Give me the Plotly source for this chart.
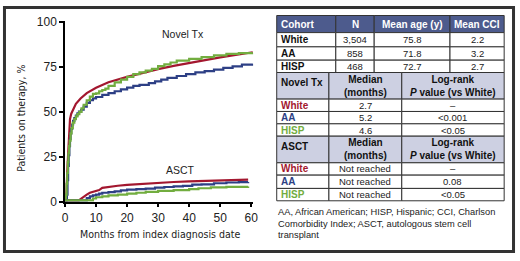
import plotly.graph_objects as go

# ---------------- data ----------------
months_novel_white = [0, 0.4, 0.8, 1.2, 1.6, 2.0, 2.7, 3.5, 5, 7, 10, 14, 20, 25, 30, 35, 40, 45, 50, 55, 60.5]
novel_white = [0.8, 3, 20, 38, 46, 49, 52, 54.5, 57.5, 60.5, 63.5, 66.5, 69.5, 71.8, 73.8, 75.6, 77.3, 78.9, 80.4, 81.8, 83.2]

months_novel_aa = [0, 0.6, 0.8, 1.0, 1.2, 1.4, 1.6, 1.8, 2.0, 2.3, 2.6, 3.0, 3.5, 4, 4.5, 5.2, 6, 7, 8, 9, 10, 12, 14, 16, 18, 20, 22, 24, 27, 29, 31, 33, 36, 39, 42, 45, 48, 51, 54, 57, 60.5]
novel_aa = [0.8, 4, 12, 20, 26, 31, 35, 38, 40.5, 43, 45, 46.5, 48, 49.2, 50.2, 51.2, 53, 55, 56.5, 57.5, 58.3, 59.5, 60.5, 61.5, 62.5, 63.5, 64.5, 65, 66, 67, 68, 69, 70, 71, 72, 72.7, 73.5, 74.5, 75.3, 76.3, 76.8]

months_novel_hisp = [0, 0.3, 0.5, 0.7, 0.9, 1.1, 1.3, 1.5, 1.8, 2.1, 2.5, 3.0, 3.5, 4, 4.6, 5.3, 6, 7, 8, 9, 10, 11, 12, 13, 14, 16, 18, 20, 22, 24, 26, 28, 30, 32, 34, 36, 40, 44, 48, 52, 56, 60.5]
novel_hisp = [0.8, 4, 10, 16, 22, 27, 31, 34, 38, 41, 44, 46, 47.5, 48.8, 50, 52, 54, 56.5, 58.5, 60, 60.3, 61.5, 62.2, 63, 64.5, 66.5, 68, 69.5, 71, 72, 73, 74, 75.5, 76.5, 77.5, 78.5, 79.5, 80.5, 81.5, 82.3, 82.7, 82.8]

months_asct_white = [0, 4.5, 5, 6, 7, 8, 9, 10, 11, 12, 14, 17, 20, 25, 30, 35, 40, 45, 50, 55, 59]
asct_white = [0.8, 0.8, 1.5, 3, 4, 5, 5.5, 6, 6.5, 7.7, 8.3, 8.9, 9.4, 10, 10.5, 11, 11.3, 11.6, 11.9, 12.1, 12.3]

months_asct_aa = [0, 5.5, 7, 8, 9, 10, 11, 12, 14, 16, 18, 20, 23, 26, 29, 32, 35, 38, 41, 44, 48, 52, 56, 59]
asct_aa = [0.8, 0.8, 2, 3, 3.5, 4, 4.5, 5, 5.3, 5.8, 6.3, 6.7, 7, 7.3, 7.8, 8.2, 8.5, 8.8, 9.5, 9.7, 10.3, 10.7, 10.9, 11]

months_asct_hisp = [0, 7.5, 9, 10, 12, 14, 17, 20, 23, 26, 30, 35, 40, 43, 47, 52, 59]
asct_hisp = [0.8, 0.8, 1.8, 2.5, 3, 3.5, 4, 4.5, 5, 5.5, 6, 6.5, 7, 7.5, 8, 8.3, 8.5]

x_ticks = [0, 10, 20, 30, 40, 50, 60]
y_ticks = [0, 25, 50, 75, 100]

cohort_header = ["Cohort", "N", "Mean age (y)", "Mean CCI"]
cohorts = ["White", "AA", "HISP"]
cohort_n = ["3,504", "858", "468"]
cohort_age = ["75.8", "71.8", "72.7"]
cohort_cci = ["2.2", "3.2", "2.7"]

novel_header = ["Novel Tx", "Median<br>(months)", "Log-rank<br><i>P</i> value (vs White)"]
novel_median = ["2.7", "5.2", "4.6"]
novel_p = ["–", "<0.001", "<0.05"]

asct_header = ["ASCT", "Median<br>(months)", "Log-rank<br><i>P</i> value (vs White)"]
asct_median = ["Not reached", "Not reached", "Not reached"]
asct_p = ["–", "0.08", "<0.05"]

footnote = ["AA, African American; HISP, Hispanic; CCI, Charlson",
            "Comorbidity Index; ASCT, autologous stem cell",
            "transplant"]

# ---------------- styles ----------------
W, H = 520, 261
RED, BLUE, GREEN = "#a3172f", "#2d3f85", "#72ad3f"
cohort_colors = [RED, BLUE, GREEN]
DARK_HDR = "#4d5b8d"
LIGHT_HDR = "#cdd0e2"
FONT = "Liberation Sans, Arial, Helvetica, sans-serif"
NARROW = "DejaVu Sans Condensed, Liberation Sans Narrow, Arial Narrow, sans-serif"


def px(x):
    return x / W


def py(y):
    return 1 - y / H


fig = go.Figure()

series = [
    (months_novel_white, novel_white, RED, "linear"),
    (months_novel_aa, novel_aa, BLUE, "hv"),
    (months_novel_hisp, novel_hisp, GREEN, "hv"),
    (months_asct_white, asct_white, RED, "linear"),
    (months_asct_aa, asct_aa, BLUE, "hv"),
    (months_asct_hisp, asct_hisp, GREEN, "hv"),
]
for xs, ys, c, shp in series:
    fig.add_trace(go.Scatter(x=xs, y=ys, mode="lines", line=dict(color="white", width=4, shape=shp),
                             hoverinfo="skip"))
for xs, ys, c, shp in series:
    fig.add_trace(go.Scatter(x=xs, y=ys, mode="lines", line=dict(color=c, width=2.2, shape=shp)))

fig.update_layout(
    width=W, height=H, autosize=False, margin=dict(l=0, r=0, t=0, b=0),
    paper_bgcolor="white", plot_bgcolor="white", showlegend=False,
    font=dict(family=FONT, color="#222"),
    xaxis=dict(domain=[px(63), px(254)], range=[0, 60.6], tickvals=x_ticks,
               showline=True, linecolor="black", linewidth=1.5, ticks="outside",
               ticklen=4, tickwidth=1.5, tickcolor="black", showgrid=False, zeroline=False,
               tickfont=dict(size=12, family=FONT, color="#222")),
    yaxis=dict(domain=[py(206), py(16)], range=[0, 100.5], tickvals=y_ticks,
               showline=True, linecolor="black", linewidth=1.5, ticks="outside",
               ticklen=4, tickwidth=1.5, tickcolor="black", showgrid=False, zeroline=False,
               tickfont=dict(size=12, family=FONT, color="#222")),
)

ann = []
shapes = []
# axis titles
ann.append(dict(x=px(159), y=py(240), xref="paper", yref="paper", text="Months from index diagnosis date",
                showarrow=False, font=dict(family=NARROW, size=10.5, color="#222"), xanchor="center", yanchor="middle"))
ann.append(dict(x=px(18), y=py(118), xref="paper", yref="paper", text="Patients on therapy, %",
                showarrow=False, textangle=-90, font=dict(family=NARROW, size=10.5, color="#222"),
                xanchor="center", yanchor="middle"))
# curve labels
ann.append(dict(x=38.1, y=93.4, xref="x", yref="y", text="Novel Tx", showarrow=False,
                font=dict(size=10.5, family=FONT, color="#222")))
ann.append(dict(x=37.1, y=17.7, xref="x", yref="y", text="ASCT", showarrow=False,
                font=dict(size=10.5, family=FONT, color="#222")))

# ---------------- table ----------------
LINE = dict(color="#333", width=1)


def cell(x0, x1, y0, y1, fill):
    shapes.append(dict(type="rect", xref="paper", yref="paper", x0=px(x0), x1=px(x1), y0=py(y1), y1=py(y0),
                       fillcolor=fill, line=LINE, layer="above"))


def text(x, y, s, color="#111", bold=False, anchor="center", size=10, yanchor="middle"):
    t = f"<b>{s}</b>" if bold else s
    ann.append(dict(x=px(x), y=py(y), xref="paper", yref="paper", text=t, showarrow=False,
                    font=dict(family=FONT, size=size, color=color), xanchor=anchor, yanchor=yanchor,
                    align="center"))


c1 = [278, 338, 377, 454, 509]
hdr_y = (10, 28)
for i in range(4):
    cell(c1[i], c1[i + 1], hdr_y[0], hdr_y[1], DARK_HDR)
for i, h in enumerate(cohort_header):
    if i == 0:
        text(c1[0] + 2, 19, h, "white", True, "left", 10)
    else:
        text((c1[i] + c1[i + 1]) / 2, 19, h, "white", True, "center", 10)
rows1 = [(28, 43), (43, 57), (57, 70)]
for r, (y0, y1) in enumerate(rows1):
    vals = [cohorts[r], cohort_n[r], cohort_age[r], cohort_cci[r]]
    for i in range(4):
        cell(c1[i], c1[i + 1], y0, y1, "white")
    ym = (y0 + y1) / 2
    text(c1[0] + 2, ym, vals[0], "#111", True, "left", 10)
    for i in range(1, 4):
        text((c1[i] + c1[i + 1]) / 2, ym, vals[i], "#222", False, "center", 9.5)

c2 = [278, 331, 405, 509]


def section(y_hdr, header, med, pv, rows):
    for i in range(3):
        cell(c2[i], c2[i + 1], y_hdr[0], y_hdr[1], LIGHT_HDR)
    text(c2[0] + 2, y_hdr[0] + 3, header[0], "#111", True, "left", 10, "top")
    ym = (y_hdr[0] + y_hdr[1]) / 2
    for i in (1, 2):
        text((c2[i] + c2[i + 1]) / 2, ym, header[i], "#111", True, "center", 10)
    for r, (y0, y1) in enumerate(rows):
        for i in range(3):
            cell(c2[i], c2[i + 1], y0, y1, "white")
        yc = (y0 + y1) / 2
        text(c2[0] + 2, yc, cohorts[r], cohort_colors[r], True, "left", 10)
        text((c2[1] + c2[2]) / 2, yc, med[r], "#222", False, "center", 9.5)
        text((c2[2] + c2[3]) / 2, yc, pv[r], "#222", False, "center", 9.5)


section((70, 98), novel_header, novel_median, novel_p, [(98, 111), (111, 124), (124, 137)])
section((137, 165), asct_header, asct_median, asct_p, [(165, 178), (178, 192), (192, 205)])

for k, line in enumerate(footnote):
    ann.append(dict(x=px(277), y=py(217 + 12 * k), xref="paper", yref="paper", text=line, showarrow=False,
                    font=dict(family=FONT, size=9.3, color="#222"), xanchor="left", yanchor="middle"))

# outer frame
shapes.append(dict(type="rect", xref="paper", yref="paper", x0=px(1.5), x1=px(518.5), y0=py(258.5), y1=py(1.5),
                   line=dict(color="#333", width=3), fillcolor="rgba(0,0,0,0)", layer="above"))

fig.update_layout(annotations=ann, shapes=shapes)

POST = """
document.body.style.margin='0';
document.body.style.overflow='hidden';
"""
fig.write_html("out.html", config={"responsive": False, "displayModeBar": False}, post_script=POST)
